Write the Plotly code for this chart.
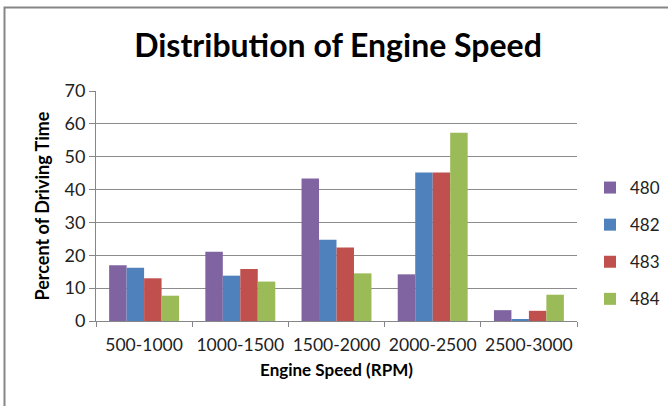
import plotly.graph_objects as go

categories = ["500-1000", "1000-1500", "1500-2000", "2000-2500", "2500-3000"]
series_names = ["480", "482", "483", "484"]
v480 = [17.0, 21.1, 43.4, 14.2, 3.3]
v482 = [16.2, 13.8, 24.7, 45.2, 0.5]
v483 = [13.0, 15.8, 22.4, 45.2, 3.1]
v484 = [7.7, 12.0, 14.5, 57.3, 8.0]
colors = ["#8064A2", "#4F81BD", "#C0504D", "#9BBB59"]
y_ticks = [0, 10, 20, 30, 40, 50, 60, 70]

FONT = "Lato"
L, R, T, B = 96, 91, 91, 85
W, H = 668, 406
PW, PH = W - L - R, H - T - B

fig = go.Figure()
for name, vals, col in zip(series_names, [v480, v482, v483, v484], colors):
    fig.add_trace(go.Bar(x=categories, y=vals, name=name, marker_color=col,
                         marker_line_width=0, legendgroup=name))

def px_x(p):
    return (p - L) / PW

def px_y(p):
    return (H - B - p) / PH

fig.add_shape(type="rect", xref="paper", yref="paper",
              x0=px_x(4.5), x1=px_x(690), y0=px_y(430), y1=px_y(7.5),
              line=dict(color="#868686", width=2), fillcolor="rgba(0,0,0,0)", layer="below")

fig.update_layout(
    width=W, height=H,
    margin=dict(l=L, r=R, t=T, b=B, autoexpand=False),
    paper_bgcolor="white", plot_bgcolor="white",
    barmode="group", bargap=0.273, bargroupgap=0,
    title=dict(text="<b>Distribution of Engine Speed</b>", x=338 / W, xanchor="center",
               y=1 - 46 / H, yanchor="middle",
               font=dict(family=FONT, size=32, color="black")),
    font=dict(family=FONT, color="#222222"),
    legend=dict(x=px_x(590), xanchor="left", y=px_y(170), yanchor="top",
                font=dict(family=FONT, size=17, color="#222222"),
                tracegroupgap=12, traceorder="grouped", bgcolor="rgba(0,0,0,0)"),
    showlegend=True,
)

fig.update_xaxes(
    automargin=False,
    showline=True, linecolor="#868686", linewidth=1,
    ticks="outside", ticklen=5, tickcolor="#868686", tickson="boundaries",
    tickangle=0,
    tickfont=dict(family=FONT, size=17.5, color="#222222"),
    ticklabelstandoff=8,
    title=dict(text="<b>Engine Speed (RPM)</b>", font=dict(family=FONT, size=17, color="black"),
               standoff=10),
    showgrid=False,
)
fig.update_yaxes(
    automargin=False,
    range=[0, 70], tickvals=y_ticks, showline=True, linecolor="#868686", linewidth=1,
    ticks="outside", ticklen=6, tickcolor="#868686",
    showgrid=True, gridcolor="#8c8c8c", gridwidth=1,
    tickfont=dict(family=FONT, size=18, color="#222222"),
    title=dict(text="<b>Percent of Driving Time</b>", font=dict(family=FONT, size=18, color="black"),
               standoff=10),
    zeroline=False,
)

fig.write_html("out.html", config={"displayModeBar": False},
               post_script="document.body.style.margin='0';")
